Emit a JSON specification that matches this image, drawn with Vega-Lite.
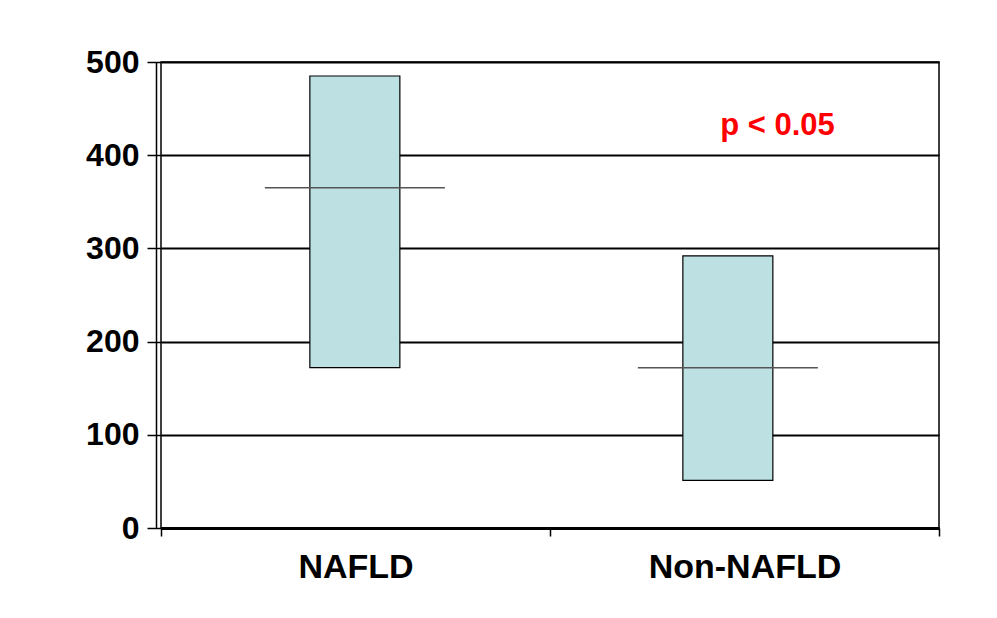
{
  "$schema": "https://vega.github.io/schema/vega-lite/v6.json",
  "width": 778,
  "height": 466,
  "autosize": {"type": "none"},
  "padding": {"left": 161, "top": 62, "right": 58, "bottom": 90},
  "background": "#ffffff",
  "config": {
    "view": {"stroke": "#000000", "strokeWidth": 1.5},
    "font": "Liberation Sans"
  },
  "data": {
    "values": [
      {"group": "NAFLD", "low": 172, "high": 485, "median": 365},
      {"group": "Non-NAFLD", "low": 51, "high": 292, "median": 172}
    ]
  },
  "layer": [
    {
      "layer": [
        {
          "mark": {"type": "bar", "size": 90, "fill": "#bde0e3", "stroke": "#000000", "strokeWidth": 1.2},
          "encoding": {
            "x": {"field": "group", "type": "nominal", "sort": null,
                  "scale": {"paddingInner": 0, "paddingOuter": 0.0429, "align": 0.23}, "axis": null},
            "y": {"field": "low", "type": "quantitative", "scale": {"domain": [0, 500], "nice": false},
                  "axis": {"orient": "left", "offset": 0, "values": [0, 100, 200, 300, 400, 500], "title": null,
                           "domain": false, "ticks": true, "tickSize": 14, "tickColor": "#000000", "tickWidth": 1.5,
                           "grid": true, "gridColor": "#000000", "gridWidth": 1.8, "gridOpacity": 1,
                           "labelFont": "Liberation Sans", "labelFontSize": 32, "labelFontWeight": "bold",
                           "labelColor": "#000000", "labelPadding": 8}},
            "y2": {"field": "high"}
          }
        },
        {
          "mark": {"type": "tick", "size": 180, "thickness": 1.5, "color": "#555555", "opacity": 1},
          "encoding": {
            "x": {"field": "group", "type": "nominal", "sort": null},
            "y": {"field": "median", "type": "quantitative"}
          }
        }
      ]
    },
    {
      "transform": [{"filter": "datum.group == 'Non-NAFLD'"}],
      "mark": {"type": "text", "text": "p < 0.05", "color": "#ff0000", "fontSize": 31, "fontWeight": "bold",
               "font": "Liberation Sans", "align": "center", "baseline": "alphabetic", "dx": 33},
      "encoding": {
        "x": {"field": "group", "type": "nominal", "sort": null,
              "scale": {"domain": ["NAFLD", "Non-NAFLD"], "paddingInner": 0, "paddingOuter": 0},
              "axis": {"orient": "bottom", "title": null, "labelAngle": 0, "labelLimit": 0, "domain": true, "domainColor": "#000000",
                       "domainWidth": 3, "ticks": true, "tickBand": "extent", "tickSize": 8, "tickColor": "#000000",
                       "tickWidth": 1.5, "grid": false, "labelFont": "Liberation Sans", "labelFontSize": 34,
                       "labelFontWeight": "bold", "labelColor": "#000000", "labelPadding": 14}},
        "y": {"datum": 422, "type": "quantitative", "scale": {"domain": [0, 500], "nice": false},
              "axis": {"orient": "left", "offset": 5, "title": null, "domain": true, "domainColor": "#000000",
                       "domainWidth": 1.5, "ticks": false, "labels": false, "grid": false}}
      }
    }
  ],
  "resolve": {"scale": {"x": "independent"}, "axis": {"x": "independent", "y": "independent"}}
}
